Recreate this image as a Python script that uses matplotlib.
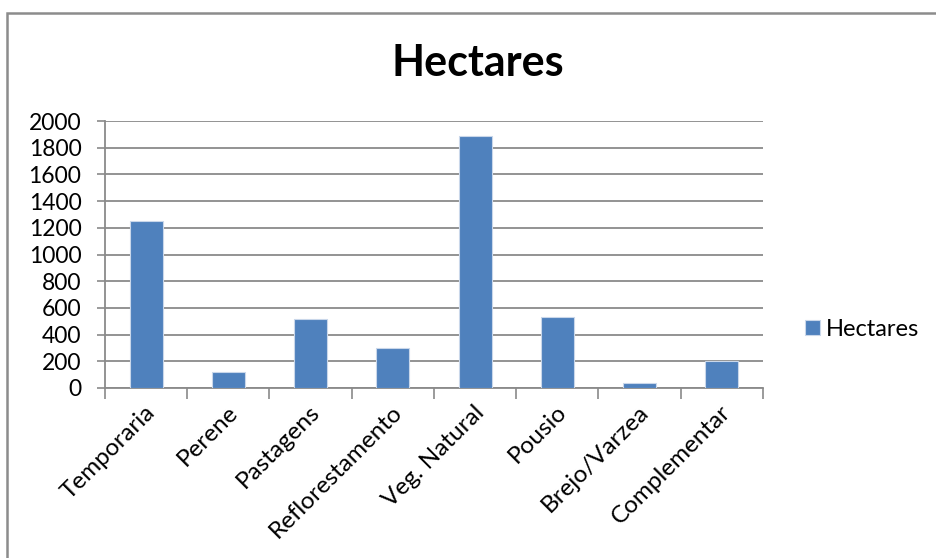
import matplotlib
matplotlib.use("Agg")
import matplotlib.pyplot as plt
from matplotlib.patches import Rectangle
import numpy as np

categories = ["Temporaria", "Perene", "Pastagens", "Reflorestamento",
              "Veg. Natural", "Pousio", "Brejo/Varzea", "Complementar"]
hectares = [1250, 120, 520, 300, 1890, 530, 40, 200]
y_ticks = [0, 200, 400, 600, 800, 1000, 1200, 1400, 1600, 1800, 2000]

plt.rcParams["font.family"] = ["Lato", "DejaVu Sans"]

W, H = 937, 558
fig = plt.figure(figsize=(W / 100, H / 100), dpi=100)
fig.patch.set_facecolor("white")

# outer chart frame (runs off the right and bottom edges)
fig.add_artist(Rectangle((7 / W, -0.1), 1.2, 1 - 13 / H + 0.1,
                         transform=fig.transFigure, fill=False,
                         edgecolor="#8c8c8c", linewidth=1.8))

ax = fig.add_axes([105 / W, 1 - 388 / H, (763 - 105) / W, (388 - 121) / H])
grid_color = "#8a8a8a"
x = np.arange(len(categories))
ax.bar(x, hectares, width=0.4, color="#4f81bd",
       edgecolor="#c9d7ea", linewidth=0.8, label="Hectares", zorder=3)

ax.set_xlim(-0.5, len(categories) - 0.5)
ax.set_ylim(0, 2000)
ax.set_yticks(y_ticks)
ax.set_yticklabels([str(v) for v in y_ticks], fontsize=16.5)
ax.yaxis.grid(True, color=grid_color, linewidth=1.3, zorder=0)

# category boundary ticks on the x axis
ax.set_xticks(np.arange(len(categories) + 1) - 0.5)
ax.set_xticklabels([])
ax.tick_params(axis="x", length=8, width=1.2, color=grid_color)
ax.tick_params(axis="y", length=6, width=1.2, color=grid_color, pad=11)
for i, name in enumerate(categories):
    ax.text(i - 0.02, -100, name, rotation=45, ha="right", va="top",
            rotation_mode="anchor", fontsize=17.5, color="black")

for side in ("top", "right"):
    ax.spines[side].set_visible(False)
for side in ("left", "bottom"):
    ax.spines[side].set_color(grid_color)
    ax.spines[side].set_linewidth(1.3)

fig.text(478 / W, 1 - 63 / H, "Hectares", ha="center", va="center",
         fontsize=31, fontweight="bold")

ax.legend(loc="center left", bbox_to_anchor=(1.05, 0.22),
          frameon=False, fontsize=17, handlelength=0.6, handleheight=0.6,
          handletextpad=0.25, borderaxespad=0)

fig.savefig("out.png", dpi=100)
